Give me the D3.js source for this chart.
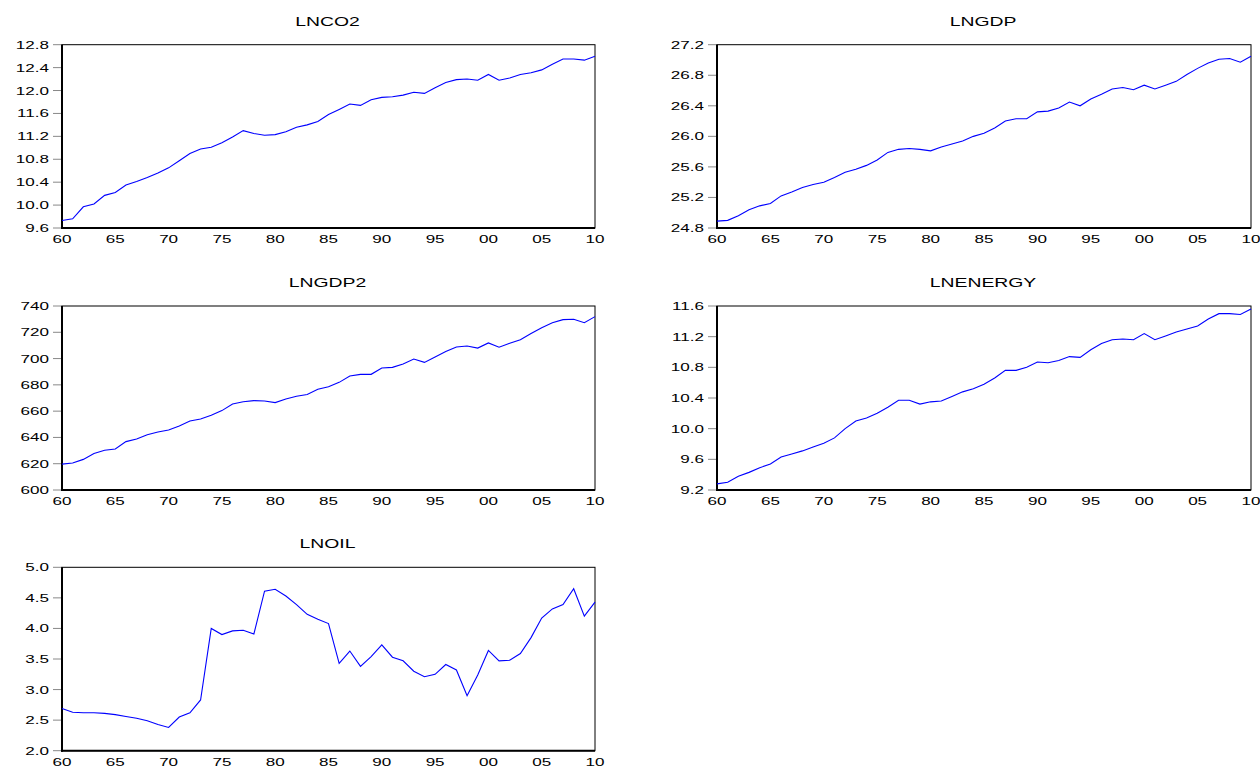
<!DOCTYPE html>
<meta charset="utf-8">
<script src="https://d3js.org/d3.v7.min.js"></script>
<style>
  body { margin: 0; background: #fff; }
  text { font-family: Arial, "Liberation Sans", sans-serif; fill: #000; }
</style>
<div id="chart"></div>
<script>
// years 1960..2010
var years = [1960,1961,1962,1963,1964,1965,1966,1967,1968,1969,
             1970,1971,1972,1973,1974,1975,1976,1977,1978,1979,
             1980,1981,1982,1983,1984,1985,1986,1987,1988,1989,
             1990,1991,1992,1993,1994,1995,1996,1997,1998,1999,
             2000,2001,2002,2003,2004,2005,2006,2007,2008,2009,2010];
var xTickYears = [1960,1965,1970,1975,1980,1985,1990,1995,2000,2005,2010];
var xTickLabels = ["60","65","70","75","80","85","90","95","00","05","10"];

var lnco2 = [9.73,9.76,9.97,10.02,10.17,10.22,10.35,10.41,10.48,10.56,
             10.65,10.775,10.90,10.98,11.01,11.09,11.19,11.30,11.25,11.22,
             11.23,11.28,11.36,11.40,11.46,11.58,11.67,11.765,11.74,11.84,
             11.88,11.89,11.92,11.97,11.95,12.05,12.14,12.19,12.20,12.18,
             12.28,12.18,12.22,12.28,12.31,12.36,12.46,12.55,12.55,12.53,12.60];
var lngdp = [24.89,24.90,24.96,25.04,25.09,25.12,25.22,25.27,25.33,25.37,
             25.40,25.46,25.53,25.57,25.62,25.69,25.79,25.83,25.84,25.83,
             25.81,25.86,25.90,25.94,26.00,26.04,26.11,26.20,26.23,26.23,
             26.32,26.33,26.37,26.45,26.40,26.49,26.55,26.62,26.64,26.61,
             26.67,26.62,26.67,26.72,26.81,26.89,26.96,27.01,27.02,26.97,27.05];
var lngdp2 = [619.7,620.6,623.3,627.7,630.2,631.2,636.8,638.8,642.1,644.1,
              645.7,648.7,652.5,654.0,656.8,660.4,665.4,667.2,668.0,667.7,
              666.5,669.2,671.3,672.7,676.6,678.6,681.9,686.7,688.0,688.0,
              692.8,693.3,695.9,699.7,697.1,701.2,705.3,708.8,709.6,708.0,
              711.9,708.6,711.6,714.4,719.0,723.5,727.3,729.6,729.9,727.3,731.9];
var lnenergy = [9.28,9.30,9.38,9.43,9.49,9.54,9.63,9.67,9.71,9.76,
                9.81,9.88,10.00,10.10,10.14,10.20,10.28,10.37,10.37,10.32,
                10.35,10.36,10.42,10.48,10.52,10.58,10.66,10.76,10.76,10.80,
                10.87,10.86,10.89,10.94,10.93,11.03,11.11,11.16,11.17,11.16,
                11.24,11.16,11.21,11.26,11.30,11.34,11.43,11.50,11.50,11.49,11.56];
var lnoil = [2.69,2.63,2.62,2.62,2.61,2.59,2.56,2.53,2.49,2.43,
             2.38,2.55,2.62,2.83,4.00,3.90,3.96,3.97,3.91,4.61,
             4.64,4.53,4.39,4.23,4.15,4.08,3.43,3.63,3.38,3.54,
             3.73,3.53,3.47,3.30,3.21,3.25,3.41,3.32,2.90,3.24,
             3.64,3.47,3.48,3.59,3.85,4.17,4.32,4.39,4.65,4.20,4.43];

var ticksCO2 = [9.6,10.0,10.4,10.8,11.2,11.6,12.0,12.4,12.8];
var ticksGDP = [24.8,25.2,25.6,26.0,26.4,26.8,27.2];
var ticksGDP2 = [600,620,640,660,680,700,720,740];
var ticksEnergy = [9.2,9.6,10.0,10.4,10.8,11.2,11.6];
var ticksOil = [2.0,2.5,3.0,3.5,4.0,4.5,5.0];

var panels = [
  {title: "LNCO2",    values: lnco2,    ticks: ticksCO2,    fmt: ".1f", left: 62,  right: 595,  top: 44.7, bottom: 228},
  {title: "LNGDP",    values: lngdp,    ticks: ticksGDP,    fmt: ".1f", left: 717, right: 1251, top: 44.7, bottom: 228},
  {title: "LNGDP2",   values: lngdp2,   ticks: ticksGDP2,   fmt: "d",   left: 62,  right: 595,  top: 306,  bottom: 490},
  {title: "LNENERGY", values: lnenergy, ticks: ticksEnergy, fmt: ".1f", left: 717, right: 1251, top: 306,  bottom: 490},
  {title: "LNOIL",    values: lnoil,    ticks: ticksOil,    fmt: ".1f", left: 62,  right: 595,  top: 567.3, bottom: 750.7}
];

// text in the original is stretched sideways
var stretch = 1.55;

var svg = d3.select("#chart").append("svg")
    .attr("width", 1260)
    .attr("height", 767);

panels.forEach(function(p) {
  var g = svg.append("g");
  var x = d3.scaleLinear().domain([1960, 2010]).range([p.left, p.right]);
  var y = d3.scaleLinear().domain([p.ticks[0], p.ticks[p.ticks.length - 1]]).range([p.bottom, p.top]);
  var f = d3.format(p.fmt);

  // title
  g.append("text")
    .attr("text-anchor", "middle")
    .attr("transform", "translate(" + ((p.left + p.right) / 2 - 1) + "," + (p.top - 19) + ") scale(" + stretch + ",1)")
    .style("font-size", "12.5px")
    .text(p.title);

  // y ticks and labels
  p.ticks.forEach(function(t) {
    g.append("line")
      .attr("x1", p.left - 9).attr("x2", p.left)
      .attr("y1", y(t)).attr("y2", y(t))
      .attr("stroke", "#888").attr("stroke-width", 1);
    g.append("text")
      .attr("text-anchor", "end")
      .attr("transform", "translate(" + (p.left - 13) + "," + (y(t) + 4) + ") scale(" + stretch + ",1)")
      .style("font-size", "11px")
      .text(f(t));
  });

  // x labels
  xTickYears.forEach(function(yr, i) {
    g.append("text")
      .attr("text-anchor", "middle")
      .attr("transform", "translate(" + x(yr) + "," + (p.bottom + 15) + ") scale(" + stretch + ",1)")
      .style("font-size", "11px")
      .text(xTickLabels[i]);
  });

  // frame: thin top/right, thick left/bottom
  g.append("rect")
    .attr("x", p.left).attr("y", p.top)
    .attr("width", p.right - p.left).attr("height", p.bottom - p.top)
    .attr("fill", "none").attr("stroke", "#000").attr("stroke-width", 1);
  g.append("line")
    .attr("x1", p.left).attr("x2", p.left).attr("y1", p.top).attr("y2", p.bottom + 1)
    .attr("stroke", "#000").attr("stroke-width", 2);
  g.append("line")
    .attr("x1", p.left - 1).attr("x2", p.right).attr("y1", p.bottom).attr("y2", p.bottom)
    .attr("stroke", "#000").attr("stroke-width", 2);

  // series line
  var line = d3.line()
    .x(function(d, i) { return x(years[i]); })
    .y(function(d) { return y(d); });
  g.append("path")
    .datum(p.values)
    .attr("d", line)
    .attr("fill", "none")
    .attr("stroke", "#0000ff")
    .attr("stroke-width", 1.1);
});
</script>
